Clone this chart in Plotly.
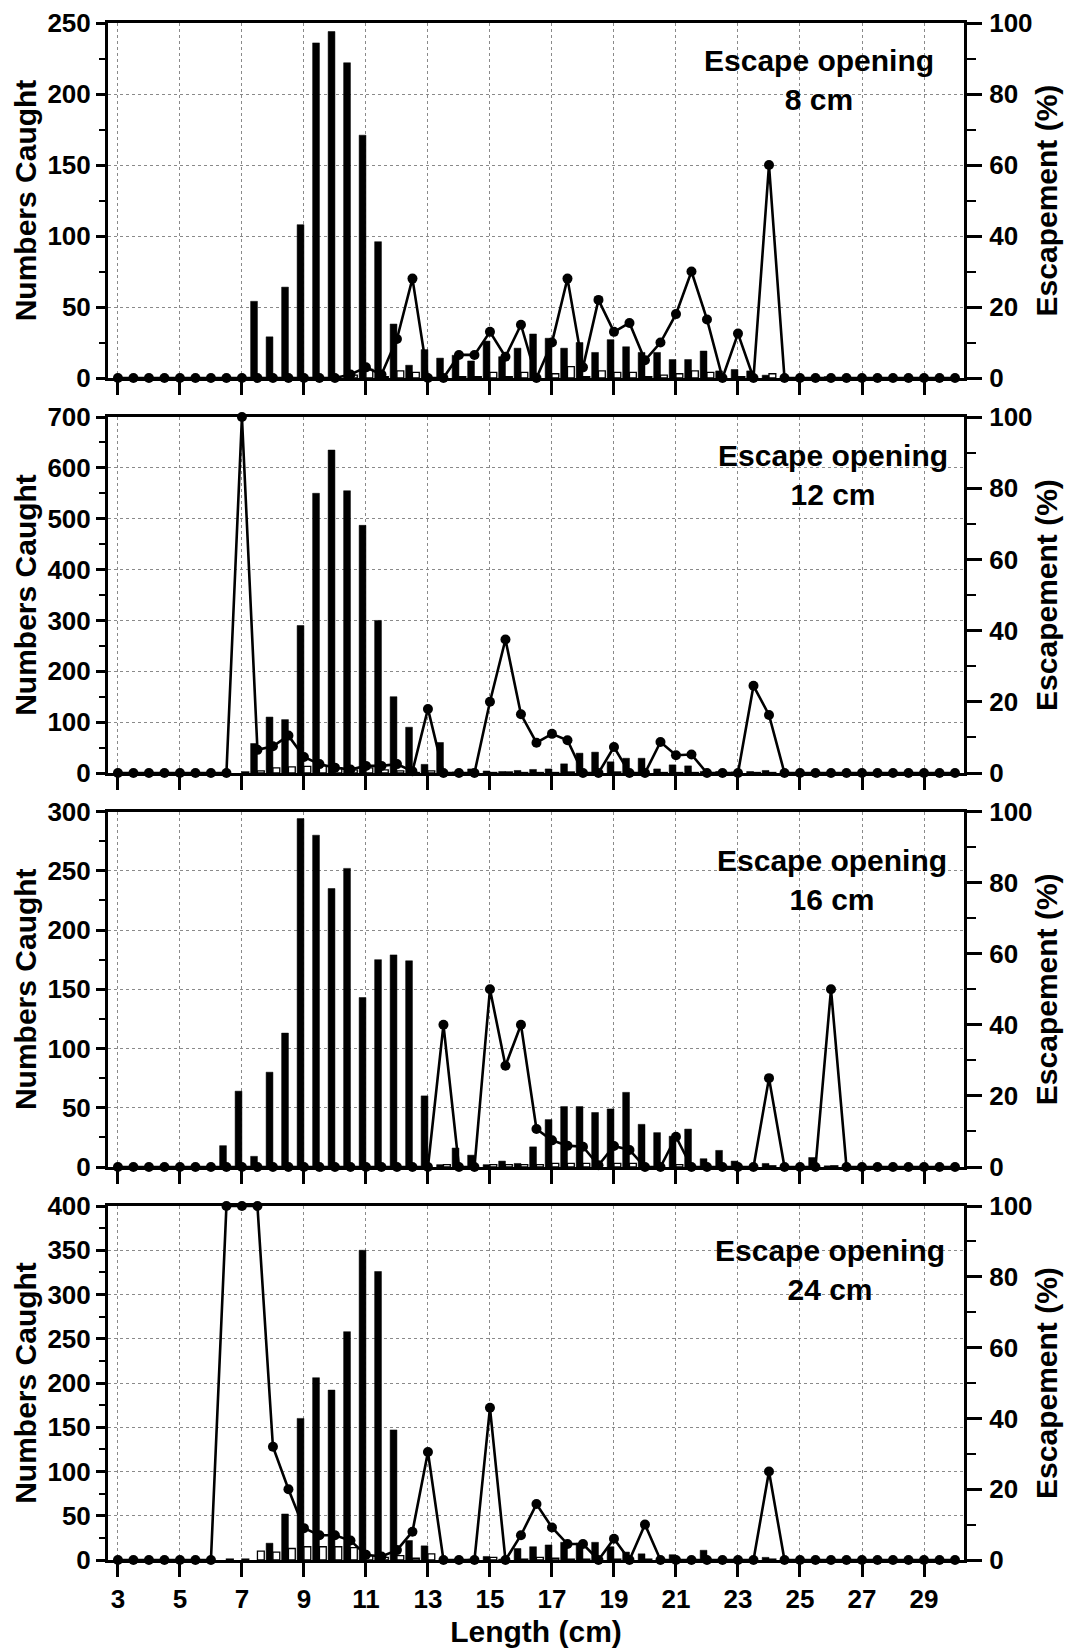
import plotly.graph_objects as go

# ---------------- data ----------------
lengths = [3.0, 3.5, 4.0, 4.5, 5.0, 5.5, 6.0, 6.5, 7.0, 7.5,
           8.0, 8.5, 9.0, 9.5, 10.0, 10.5, 11.0, 11.5, 12.0, 12.5,
           13.0, 13.5, 14.0, 14.5, 15.0, 15.5, 16.0, 16.5, 17.0, 17.5,
           18.0, 18.5, 19.0, 19.5, 20.0, 20.5, 21.0, 21.5, 22.0, 22.5,
           23.0, 23.5, 24.0, 24.5, 25.0, 25.5, 26.0, 26.5, 27.0, 27.5,
           28.0, 28.5, 29.0, 29.5, 30.0]

x_tick_vals = [3, 5, 7, 9, 11, 13, 15, 17, 19, 21, 23, 25, 27, 29]
x_tick_text = ["3", "5", "7", "9", "11", "13", "15", "17", "19", "21", "23", "25", "27", "29"]

# Escape opening 8 cm
p1_retained = [0, 0, 0, 0, 0, 0, 0, 0, 0, 54,
               29, 64, 108, 236, 244, 222, 171, 96, 38, 9,
               20, 14, 16, 12, 26, 15, 21, 31, 28, 21,
               25, 18, 27, 22, 18, 18, 13, 13, 19, 5,
               6, 5, 2, 0, 0, 0, 1, 0, 0, 0,
               0, 0, 0, 0, 0]
p1_escaped = [0, 0, 0, 0, 0, 0, 0, 0, 0, 0,
              0, 0, 0, 0, 0, 2, 6, 1, 5, 4,
              0, 0, 1, 1, 4, 1, 4, 0, 3, 8,
              1, 5, 4, 4, 1, 2, 3, 5, 4, 0,
              1, 0, 3, 0, 0, 0, 0, 0, 0, 0,
              0, 0, 0, 0, 0]
p1_escapement = [0, 0, 0, 0, 0, 0, 0, 0, 0, 0,
                 0, 0, 0, 0, 0, 1, 3, 1, 11, 28,
                 0, 0, 6.5, 6.5, 13, 6, 15, 0, 10, 28,
                 3, 22, 13, 15.5, 5, 10, 18, 30, 16.5, 0,
                 12.5, 0, 60, 0, 0, 0, 0, 0, 0, 0,
                 0, 0, 0, 0, 0]

# Escape opening 12 cm
p2_retained = [0, 0, 0, 0, 0, 0, 0, 0, 0, 58,
               110, 105, 290, 550, 635, 555, 487, 300, 150, 90,
               17, 60, 2, 8, 4, 3, 5, 7, 8, 18,
               39, 41, 22, 29, 29, 8, 16, 14, 3, 3,
               2, 3, 5, 0, 0, 0, 0, 0, 0, 0,
               0, 0, 0, 0, 0]
p2_escaped = [0, 0, 0, 0, 0, 0, 0, 0, 2, 4,
              10, 12, 13, 14, 10, 6, 10, 6, 4, 1,
              4, 0, 0, 0, 1, 2, 1, 1, 1, 2,
              0, 0, 2, 0, 0, 1, 1, 1, 0, 0,
              0, 1, 1, 0, 0, 0, 0, 0, 0, 0,
              0, 0, 0, 0, 0]
p2_escapement = [0, 0, 0, 0, 0, 0, 0, 0, 100, 6.5,
                 7.5, 10.5, 4.5, 2.5, 1.5, 1, 2, 2, 2.5, 0.5,
                 18, 0, 0, 0, 20, 37.5, 16.5, 8.5, 11, 9.2,
                 0, 0, 7.3, 0, 0, 8.7, 5, 5.2, 0, 0,
                 0, 24.5, 16.3, 0, 0, 0, 0, 0, 0, 0,
                 0, 0, 0, 0, 0]

# Escape opening 16 cm
p3_retained = [0, 0, 0, 0, 0, 0, 0, 18, 64, 9,
               80, 113, 294, 280, 235, 252, 143, 175, 179, 174,
               60, 2, 16, 10, 2, 5, 3, 17, 40, 51,
               51, 46, 49, 63, 36, 29, 26, 32, 7, 14,
               5, 0, 3, 0, 0, 8, 1, 0, 0, 0,
               0, 0, 0, 0, 0]
p3_escaped = [0, 0, 0, 0, 0, 0, 0, 0, 0, 0,
              0, 0, 0, 0, 0, 0, 0, 0, 0, 0,
              0, 2, 0, 0, 2, 2, 2, 2, 3, 3,
              3, 0, 3, 3, 0, 0, 2, 0, 0, 0,
              0, 0, 1, 0, 0, 0, 1, 0, 0, 0,
              0, 0, 0, 0, 0]
p3_escapement = [0, 0, 0, 0, 0, 0, 0, 0, 0, 0,
                 0, 0, 0, 0, 0, 0, 0, 0, 0, 0,
                 0, 40, 0, 0, 50, 28.5, 40, 10.7, 7.5, 6,
                 5.7, 0.5, 5.9, 4.8, 0, 0, 8.5, 0, 0, 0,
                 0, 0, 25, 0, 0, 0, 50, 0, 0, 0,
                 0, 0, 0, 0, 0]

# Escape opening 24 cm
p4_retained = [0, 0, 0, 0, 0, 0, 0, 0, 0, 0,
               19, 52, 160, 206, 192, 258, 350, 326, 147, 22,
               16, 0, 0, 1, 4, 1, 13, 15, 17, 20,
               19, 20, 15, 9, 7, 0, 6, 0, 11, 0,
               0, 0, 3, 0, 0, 0, 0, 0, 0, 0,
               0, 0, 0, 0, 0]
p4_escaped = [0, 0, 0, 0, 0, 0, 0, 1, 1, 10,
              9, 13, 15, 15, 15, 14, 5, 3, 5, 2,
              7, 0, 0, 0, 3, 0, 1, 3, 2, 1,
              1, 0, 1, 0, 1, 0, 0, 0, 0, 0,
              0, 0, 1, 0, 0, 0, 0, 0, 0, 0,
              0, 0, 0, 0, 0]
p4_escapement = [0, 0, 0, 0, 0, 0, 0, 100, 100, 100,
                 32, 20, 9, 7, 7, 5.5, 1.5, 1, 2.8, 8,
                 30.5, 0, 0, 0, 43, 0, 7, 15.8, 9.2, 4.5,
                 4.5, 0, 6, 0, 10, 0, 0, 0, 0, 0,
                 0, 0, 25, 0, 0, 0, 0, 0, 0, 0,
                 0, 0, 0, 0, 0]

panel_labels = ["Escape opening<br>8 cm", "Escape opening<br>12 cm",
                "Escape opening<br>16 cm", "Escape opening<br>24 cm"]
left_max = [250, 700, 300, 400]
left_dtick = [50, 100, 50, 50]

retained = [p1_retained, p2_retained, p3_retained, p4_retained]
escaped = [p1_escaped, p2_escaped, p3_escaped, p4_escaped]
escapement = [p1_escapement, p2_escapement, p3_escapement, p4_escapement]

# ---------------- layout geometry ----------------
W, H = 1068, 1649
ML, MR, MT, MB = 108, 104, 23, 89
plot_h = H - MT - MB
panel_px = [(23, 378), (417, 773), (811.5, 1167), (1206, 1560)]
domains = [[(H - MB - b) / plot_h, (H - MB - t) / plot_h] for (t, b) in panel_px]
label_pos = [(819, 80), (833, 475), (832, 880), (830, 1270)]

FONT = "Liberation Sans, Arial, sans-serif"
tickfont = dict(family=FONT, size=26, color="black", weight="bold")
titlefont = dict(family=FONT, size=30, color="black", weight="bold")
GRID = "#8a8a8a"

fig = go.Figure()
layout = dict(
    width=W, height=H,
    margin=dict(l=ML, r=MR, t=MT, b=MB, pad=0, autoexpand=False),
    plot_bgcolor="white", paper_bgcolor="white",
    barmode="group", bargap=0.12, bargroupgap=0.0,
    showlegend=False,
    annotations=[],
)

for k in range(4):
    n = k + 1
    xa = "x" if n == 1 else f"x{n}"
    ya = "y" if n == 1 else f"y{n}"
    yr = f"y{n + 4}"
    fig.add_trace(go.Bar(
        x=lengths, y=[v if v else None for v in retained[k]],
        xaxis=xa, yaxis=ya, offsetgroup="a",
        marker=dict(color="black", line=dict(color="black", width=0.5)),
    ))
    fig.add_trace(go.Bar(
        x=lengths, y=[v if v else None for v in escaped[k]],
        xaxis=xa, yaxis=ya, offsetgroup="b",
        marker=dict(color="white", line=dict(color="black", width=1.3)),
    ))
    fig.add_trace(go.Scatter(
        x=lengths, y=escapement[k], xaxis=xa, yaxis=yr,
        mode="lines+markers", cliponaxis=False,
        line=dict(color="black", width=2.6),
        marker=dict(color="black", size=10, symbol="circle"),
    ))

    xkey = "xaxis" if n == 1 else f"xaxis{n}"
    ykey = "yaxis" if n == 1 else f"yaxis{n}"
    layout[xkey] = dict(
        domain=[0, 1], anchor=ya, range=[2.68, 30.29], automargin=False,
        tickmode="array", tickvals=x_tick_vals, ticktext=x_tick_text,
        showticklabels=(n == 4), tickfont=tickfont,
        ticks="outside", ticklen=14, tickwidth=2.5, tickcolor="black",
        showline=True, linecolor="black", linewidth=3, mirror=True,
        showgrid=True, gridcolor=GRID, griddash="dot", gridwidth=1,
        zeroline=False, fixedrange=True,
    )
    if n == 4:
        layout[xkey]["title"] = dict(text="Length (cm)", font=titlefont, standoff=8)
    layout[ykey] = dict(
        domain=domains[k], anchor=xa, range=[0, left_max[k]], automargin=False,
        tick0=0, dtick=left_dtick[k], tickfont=tickfont,
        ticks="outside", ticklen=9, tickwidth=2.5, tickcolor="black",
        minor=dict(dtick=left_dtick[k] / 2, ticks="outside", ticklen=6,
                   tickwidth=2, tickcolor="black", showgrid=False),
        showline=True, linecolor="black", linewidth=3,
        showgrid=True, gridcolor=GRID, griddash="dot", gridwidth=1,
        zeroline=False,
        title=dict(text="Numbers Caught", font=titlefont, standoff=2),
    )
    layout[f"yaxis{n + 4}"] = dict(
        overlaying=ya, anchor=xa, side="right", range=[0, 100], automargin=False,
        tick0=0, dtick=20, tickfont=tickfont,
        ticks="outside", ticklen=15, tickwidth=2.5, tickcolor="black",
        minor=dict(dtick=10, ticks="outside", ticklen=9, tickwidth=2,
                   tickcolor="black", showgrid=False),
        showline=True, linecolor="black", linewidth=3,
        showgrid=False, zeroline=False, ticklabelstandoff=2,
        title=dict(text="Escapement (%)", font=titlefont, standoff=5),
    )
    px_x, px_y = label_pos[k]
    layout["annotations"].append(dict(
        text=panel_labels[k], xref="paper", yref="paper",
        x=(px_x - ML) / (W - ML - MR), y=(H - MB - px_y) / plot_h,
        xanchor="center", yanchor="middle", showarrow=False, align="center",
        font=dict(family=FONT, size=30, color="black", weight="bold"),
    ))

fig.update_layout(**layout)
fig.write_html("out.html")
